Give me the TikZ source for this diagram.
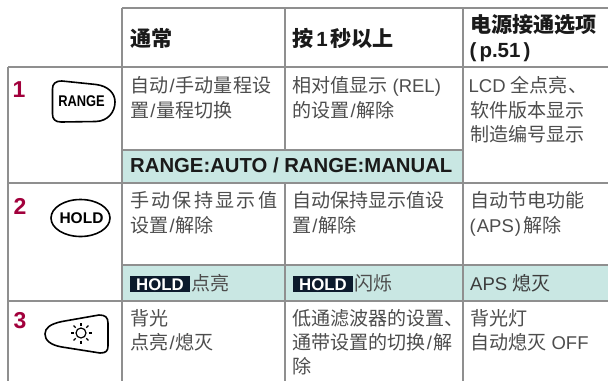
\documentclass[tikz,border=0pt]{standalone}
\usepackage{fontspec}
\usetikzlibrary{calc}
\setmainfont{Liberation Sans}
\newfontfamily\cjkf{Noto Sans CJK SC}[Scale=1.03]
\newcommand\zhs[1]{{\cjkf #1}}
\newcommand\slsh{\hspace{1.2pt}/\hspace{1.2pt}}
\definecolor{gridgray}{HTML}{8F8F8F}
\definecolor{bandteal}{HTML}{C9E7E3}
\definecolor{bodytext}{HTML}{4D4D4D}
\definecolor{headtext}{HTML}{1A1A1A}
\definecolor{numred}{HTML}{A2003C}
\definecolor{navybox}{HTML}{0C1A2C}
\tikzset{
  body/.style={anchor=base west, inner sep=0pt, font=\fontsize{18.5}{24}\selectfont, text=bodytext},
  head/.style={anchor=base west, inner sep=0pt, font=\bfseries\fontsize{20.5}{26}\selectfont, text=headtext},
  bandtxt/.style={anchor=base west, inner sep=0pt, font=\bfseries\fontsize{20.3}{24}\selectfont, text=headtext},
  num/.style={anchor=base west, inner sep=0pt, font=\bfseries\fontsize{23}{23}\selectfont, text=numred},
  gridline/.style={draw=gridgray, line width=2pt},
  holdbox/.style={fill=navybox, text=white, font=\bfseries\fontsize{16.8}{16.8}\selectfont, inner xsep=6pt, inner ysep=0pt, text height=14pt, text depth=2pt, anchor=base west},
  btn/.style={draw=black, line width=1.6pt, line join=round},
  btntxt/.style={anchor=base, inner sep=0pt, font=\bfseries\fontsize{15.5}{15.5}\selectfont, text=black},
}
\begin{document}
\begin{tikzpicture}[x=1pt,y=-1pt]
\useasboundingbox (0,0) rectangle (608,381);
\fill[white] (0,0) rectangle (608,381);
% bands
\fill[bandteal] (122,150) rectangle (463,182.5);
\fill[bandteal] (122,265) rectangle (608,301);
% grid
\draw[gridline] (122,8) -- (608,8);
\draw[gridline] (8,67) -- (608,67);
\draw[gridline] (122,150) -- (463,150);
\draw[gridline] (8,182.5) -- (608,182.5);
\draw[gridline] (122,265) -- (608,265);
\draw[gridline] (8,301) -- (608,301);
\draw[gridline] (8,67) -- (8,381);
\draw[gridline] (122,8) -- (122,381);
\draw[gridline] (284.5,8) -- (284.5,150);
\draw[gridline] (284.5,182.5) -- (284.5,381);
\draw[gridline] (463,8) -- (463,381);
% header
\node[head] (h1) at (130,46) {\zhs{通常}};
\node[head] (h2) at (292,46) {\zhs{按}\hspace{3pt}1\hspace{3pt}\zhs{秒以上}};
\node[head] (h3a) at (470,32) {\zhs{电源接通选项}};
\node[head] (h3b) at (469.5,57.5) {(\hspace{3pt}p.51\hspace{3pt})};
% row 1
\node[num] (n1) at (12.5,97.5) {1};
\draw[btn] (62,81) -- (96,84.5) .. controls (108,86) and (115,93) .. (115,102) .. controls (115,112) and (108,121) .. (96,121.5) -- (61,122) .. controls (55,122) and (52.5,119) .. (52.5,114) -- (52.5,89) .. controls (52.5,84) and (55,81) .. (62,81) -- cycle;
\node[btntxt] (rangeT) at (81.5,106.5) {\scalebox{0.83}[1]{RANGE}};
\node[body] (r1c2a) at (130,92) {\zhs{自动}\slsh\zhs{手动量程设}};
\node[body] (r1c2b) at (130,117) {\zhs{置}\slsh\zhs{量程切换}};
\node[body] (r1c3a) at (292,92) {\zhs{相对值显示} (REL)};
\node[body] (r1c3b) at (292,117) {\zhs{的设置}\slsh\zhs{解除}};
\node[body] (r1c4a) at (468.5,92) {LCD \zhs{全点亮、}};
\node[body] (r1c4b) at (470,117) {\zhs{软件版本显示}};
\node[body] (r1c4c) at (470,141.5) {\zhs{制造编号显示}};
\node[bandtxt] (r1band) at (130,172) {RANGE:AUTO / RANGE:MANUAL};
% row 2
\node[num] (n2) at (13.5,214) {2};
\draw[btn] (80.5,218) ellipse [x radius=29.5, y radius=18.5];
\node[btntxt] (holdT) at (81.5,223.5) {HOLD};
\node[body] (r2c2a) at (130,207.5) {\makebox[147pt][s]{\zhs{手}\hfill\zhs{动}\hfill\zhs{保}\hfill\zhs{持}\hfill\zhs{显}\hfill\zhs{示}\hfill\zhs{值}}};
\node[body] (r2c2b) at (130,232) {\zhs{设置}\slsh\zhs{解除}};
\node[body] (r2c3a) at (292,207.5) {\zhs{自动保持显示值设}};
\node[body] (r2c3b) at (292,232) {\zhs{置}\slsh\zhs{解除}};
\node[body] (r2c4a) at (470,207.5) {\zhs{自动节电功能}};
\node[body] (r2c4b) at (469.5,232) {(\hspace{1pt}APS\hspace{1pt})\hspace{2pt}\zhs{解除}};
\node[holdbox] (hb1) at (130,290) {HOLD};
\node[body] (r2b1) at (hb1.base east) {\hspace{1pt}\zhs{点亮}};
\node[holdbox] (hb2) at (293,290) {HOLD};
\node[body] (r2b2) at (hb2.base east) {\hspace{1pt}\zhs{闪烁}};
\node[body, text=headtext!85] (r2b3) at (470,290) {APS \zhs{熄灭}};
% row 3
\node[num] (n3) at (13.5,328.5) {3};
\draw[btn] (99,315) .. controls (105,315) and (108,317) .. (108,323) -- (108,346) .. controls (108,351) and (106,353) .. (100,353) -- (62,347) .. controls (50,345) and (45,340) .. (45,334) .. controls (45,328) and (50,324) .. (62,321.5) -- cycle;
\coordinate (sun) at (81,333);
\draw[line width=1.2pt] (sun) circle (5);
\foreach \a in {0,45,...,315}{
  \draw[line width=1.2pt] ($(sun)+(\a:7.5)$) -- ($(sun)+(\a:10.5)$);
}
\node[body] (r3c2a) at (130,325) {\zhs{背光}};
\node[body] (r3c2b) at (130,349) {\zhs{点亮}\slsh\zhs{熄灭}};
\node[body] (r3c3a) at (292,325) {\zhs{低通滤波器的设置、}};
\node[body] (r3c3b) at (292,349) {\zhs{通带设置的切换}\slsh\zhs{解}};
\node[body] (r3c3c) at (292,373) {\zhs{除}};
\node[body] (r3c4a) at (470,325) {\zhs{背光灯}};
\node[body] (r3c4b) at (470,349) {\zhs{自动熄灭} OFF};
\end{tikzpicture}
\end{document}
